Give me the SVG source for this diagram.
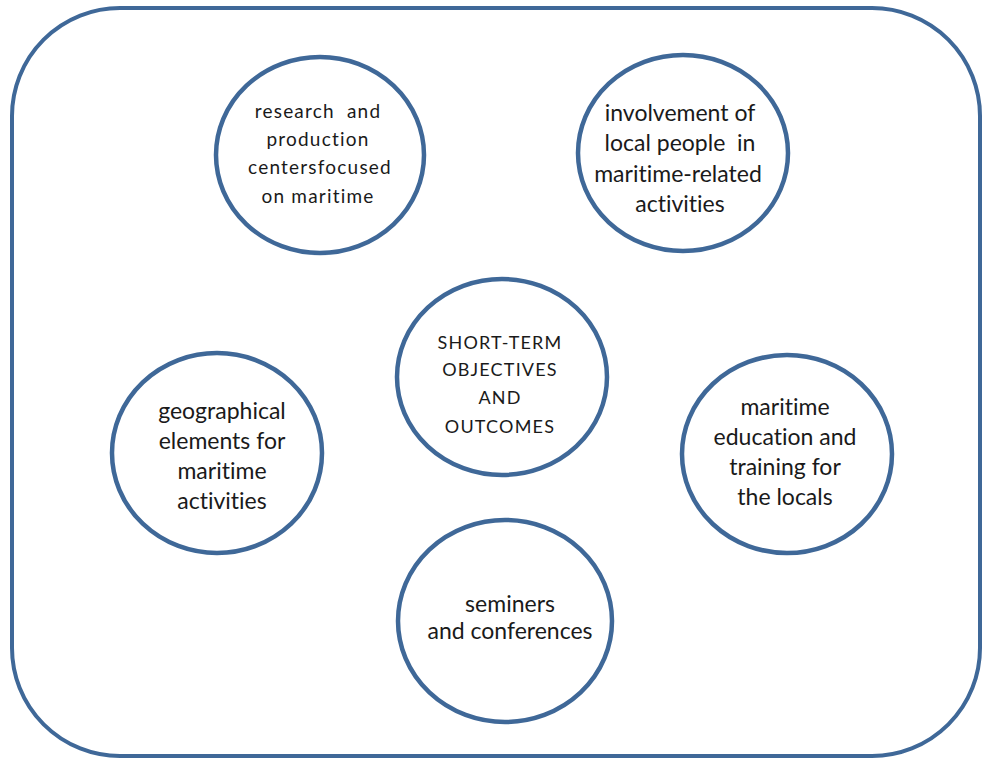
<svg xmlns="http://www.w3.org/2000/svg" width="984" height="760" viewBox="0 0 984 760">
<style>
.frame{fill:#ffffff;stroke:#3f6898;stroke-width:4}
.node{fill:#ffffff;stroke:#3f6898;stroke-width:4.5}
text{font-family:Lato,"Open Sans","Liberation Sans",sans-serif;fill:#1a1a1a;text-anchor:middle;font-variant-ligatures:none;white-space:pre}
.t{font-size:23px}
.s{font-size:19px;letter-spacing:1.2px}
.c{font-size:18px;letter-spacing:1.2px}
</style>
<rect width="984" height="760" fill="#ffffff"/>
<rect class="frame" x="12" y="8" width="968" height="748" rx="108" ry="108"/>
<g id="connectors"></g>
<g id="research">
<ellipse class="node" cx="320" cy="155" rx="104" ry="98"/>
<text class="s" x="318" y="118" xml:space="preserve">research  and</text>
<text class="s" x="318" y="146">production</text>
<text class="s" x="320" y="174">centersfocused</text>
<text class="s" x="318" y="203">on maritime</text>
</g>
<g id="involvement">
<ellipse class="node" cx="683" cy="153" rx="105" ry="98"/>
<text class="t" x="680" y="121">involvement of</text>
<text class="t" x="680" y="151" xml:space="preserve">local people  in</text>
<text class="t" x="678" y="182">maritime-related</text>
<text class="t" x="680" y="212">activities</text>
</g>
<g id="center">
<ellipse class="node" cx="502" cy="377" rx="105" ry="98"/>
<text class="c" x="500" y="349">SHORT-TERM</text>
<text class="c" x="500" y="376">OBJECTIVES</text>
<text class="c" x="500" y="404">AND</text>
<text class="c" x="500" y="433">OUTCOMES</text>
</g>
<g id="geographical">
<ellipse class="node" cx="217" cy="453" rx="105" ry="100"/>
<text class="t" x="222" y="419">geographical</text>
<text class="t" x="222" y="449">elements for</text>
<text class="t" x="222" y="479">maritime</text>
<text class="t" x="222" y="509">activities</text>
</g>
<g id="education">
<ellipse class="node" cx="787" cy="454" rx="105" ry="99"/>
<text class="t" x="785" y="415">maritime</text>
<text class="t" x="785" y="445">education and</text>
<text class="t" x="785" y="475">training for</text>
<text class="t" x="785" y="505">the locals</text>
</g>
<g id="seminers">
<ellipse class="node" cx="505" cy="621" rx="107" ry="101"/>
<text class="t" x="510" y="612">seminers</text>
<text class="t" x="510" y="639">and conferences</text>
</g>
</svg>
